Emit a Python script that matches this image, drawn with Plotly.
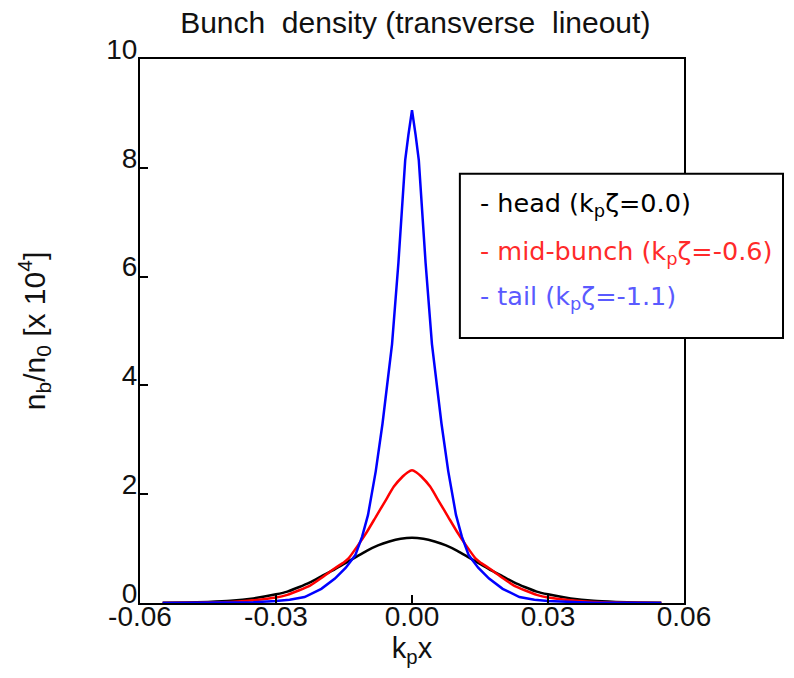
import plotly.graph_objects as go

# ---- data (k_p x , n_b/n_0 in units of 1e4) ----
x_head = [-0.055, -0.05, -0.045, -0.04, -0.035, -0.03, -0.0275, -0.025, -0.0225, -0.02,
          -0.0175, -0.015, -0.0125, -0.01, -0.0075, -0.005, -0.0025, 0.0,
          0.0025, 0.005, 0.0075, 0.01, 0.0125, 0.015, 0.0175, 0.02, 0.0225, 0.025,
          0.0275, 0.03, 0.035, 0.04, 0.045, 0.05, 0.055]
y_head = [0.003, 0.008, 0.02, 0.04, 0.085, 0.16, 0.21, 0.29, 0.38, 0.49,
          0.60, 0.72, 0.84, 0.96, 1.06, 1.13, 1.18, 1.20,
          1.18, 1.13, 1.06, 0.96, 0.84, 0.72, 0.60, 0.49, 0.38, 0.29,
          0.21, 0.16, 0.085, 0.04, 0.02, 0.008, 0.003]

x_mid = [-0.055, -0.05, -0.045, -0.04, -0.035, -0.03, -0.0275, -0.025, -0.0225, -0.02,
         -0.017, -0.015, -0.014, -0.012, -0.01, -0.008, -0.006, -0.004, -0.002, -0.001, 0.0,
         0.001, 0.002, 0.004, 0.006, 0.008, 0.01, 0.012, 0.014, 0.015, 0.017,
         0.02, 0.0225, 0.025, 0.0275, 0.03, 0.035, 0.04, 0.045, 0.05, 0.055]
y_mid = [0.002, 0.004, 0.01, 0.02, 0.05, 0.10, 0.15, 0.23, 0.32, 0.46,
         0.64, 0.75, 0.82, 1.05, 1.30, 1.58, 1.86, 2.14, 2.33, 2.40, 2.44,
         2.40, 2.33, 2.14, 1.86, 1.58, 1.30, 1.05, 0.82, 0.75, 0.64,
         0.46, 0.32, 0.23, 0.15, 0.10, 0.05, 0.02, 0.01, 0.004, 0.002]

x_tail = [-0.055, -0.05, -0.045, -0.04, -0.035, -0.03, -0.027, -0.0237, -0.02, -0.017,
          -0.0146, -0.0125, -0.011, -0.0097, -0.008, -0.0065, -0.0044, -0.003, -0.0015,
          -0.0008, 0.0, 0.0008, 0.0015, 0.003, 0.0044, 0.0065, 0.008, 0.0097, 0.011,
          0.0125, 0.0146, 0.017, 0.02, 0.0237, 0.027, 0.03, 0.035, 0.04, 0.045, 0.05, 0.055]
y_tail = [0.0, 0.001, 0.003, 0.006, 0.015, 0.035, 0.06, 0.11, 0.26, 0.45,
          0.65, 0.88, 1.22, 1.62, 2.42, 3.30, 4.76, 6.25, 8.14,
          8.60, 9.06, 8.60, 8.14, 6.25, 4.76, 3.30, 2.42, 1.62, 1.22,
          0.88, 0.65, 0.45, 0.26, 0.11, 0.06, 0.035, 0.015, 0.006, 0.003, 0.001, 0.0]

x_tick_vals = [-0.06, -0.03, 0.0, 0.03, 0.06]
x_tick_text = ["-0.06", "-0.03", "0.00", "0.03", "0.06"]
y_tick_vals = [0, 2, 4, 6, 8, 10]
y_tick_text = ["0", "2", "4", "6", "8", "10"]

legend_labels = ["- head (k<sub>p</sub>ζ=0.0)",
                 "- mid-bunch (k<sub>p</sub>ζ=-0.6)",
                 "- tail (k<sub>p</sub>ζ=-1.1)"]
legend_colors = ["#000000", "#ff2a2a", "#5a5aff"]

fig = go.Figure()
fig.add_trace(go.Scatter(x=x_head, y=y_head, mode="lines",
                         line=dict(color="#000000", width=2.5, shape="spline", smoothing=0.6)))
fig.add_trace(go.Scatter(x=x_mid, y=y_mid, mode="lines",
                         line=dict(color="#ff0000", width=2.5, shape="spline", smoothing=0.5)))
fig.add_trace(go.Scatter(x=x_tail, y=y_tail, mode="lines",
                         line=dict(color="#0000ff", width=2.5)))

font_main = "Liberation Sans, Arial, sans-serif"

fig.update_layout(
    width=794, height=678,
    margin=dict(l=140, r=110, t=59, b=75, pad=0),
    paper_bgcolor="white", plot_bgcolor="white",
    showlegend=False,
    title=dict(text="Bunch&nbsp; density (transverse&nbsp; lineout)",
               x=0.523, xanchor="center", y=0.967, yanchor="middle",
               font=dict(family=font_main, size=30, color="#111")),
    xaxis=dict(range=[-0.06, 0.06], tickmode="array", tickvals=x_tick_vals,
               ticktext=x_tick_text, ticks="inside", ticklen=8, tickwidth=1.5,
               tickcolor="black", showline=True, linecolor="black", linewidth=2,
               mirror=True, showgrid=False, zeroline=False, ticklabelstandoff=-13,
               tickfont=dict(family=font_main, size=28, color="#111"),
               title=dict(text="k<sub>p</sub>x", standoff=4,
                          font=dict(family=font_main, size=29, color="#111"))),
    yaxis=dict(range=[0, 10], tickmode="array", tickvals=y_tick_vals,
               ticktext=y_tick_text, ticks="inside", ticklen=8, tickwidth=1.5,
               tickcolor="black", showline=True, linecolor="black", linewidth=2,
               mirror=True, showgrid=False, zeroline=False, ticklabelshift=-10,
               ticklabelstandoff=-5,
               tickfont=dict(family=font_main, size=28, color="#111"),
               title=dict(text="n<sub>b</sub>/n<sub>0</sub> [x 10<sup>4</sup>]", standoff=52,
                          font=dict(family=font_main, size=30, color="#111"))),
)

# legend box
fig.add_shape(type="rect", xref="paper", yref="paper",
              x0=0.588, x1=1.182, y0=0.487, y1=0.789,
              line=dict(color="black", width=2), fillcolor="white", layer="above")
ys = [0.732, 0.645, 0.5625]
for txt, col, yy in zip(legend_labels, legend_colors, ys):
    fig.add_annotation(xref="paper", yref="paper", x=0.621, y=yy,
                       xanchor="left", yanchor="middle", showarrow=False,
                       text=txt, font=dict(family="DejaVu Sans, Verdana, sans-serif",
                                           size=25.5, color=col))

fig.write_html("out.html")
